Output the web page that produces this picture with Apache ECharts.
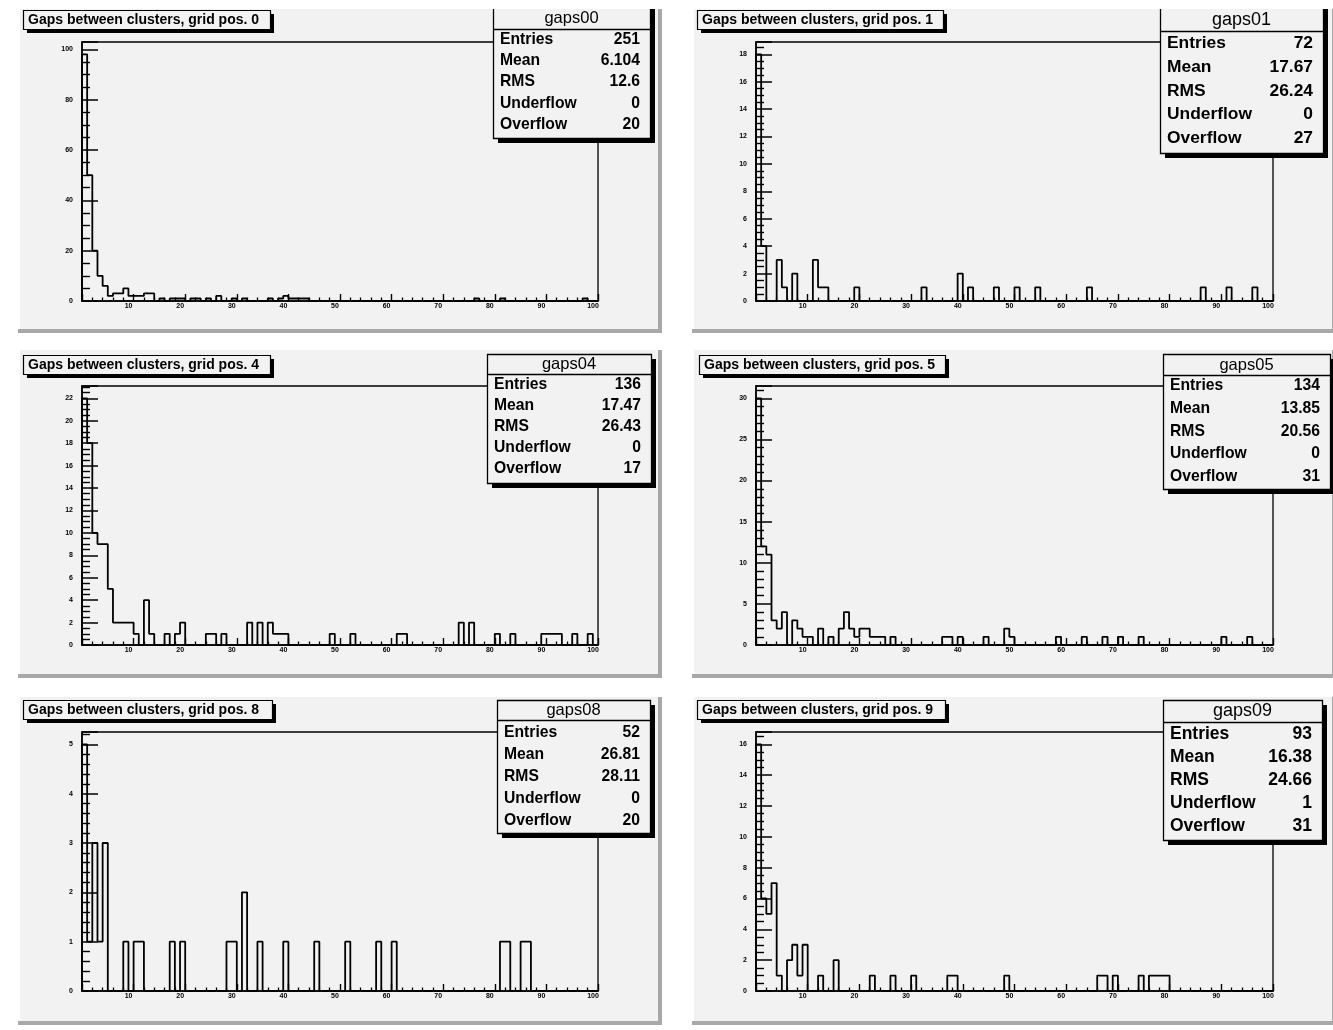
<!DOCTYPE html>
<html>
<head>
<meta charset="utf-8">
<script src="https://cdn.jsdelivr.net/npm/echarts@6/dist/echarts.min.js"></script>
<style>
  html, body { margin: 0; padding: 0; background: #ffffff; }
  #chart { width: 1333px; height: 1030px; }
</style>
</head>
<body>
<div id="chart"></div>
<script>
// Bin contents, 100 bins of width 1 on [0, 100)
const gaps00 = [
  98, 50, 20, 10, 6, 2, 3, 3, 5, 2,
  2, 2, 3, 3, 0, 1, 0, 1, 1, 1,
  0, 1, 1, 0, 1, 0, 2, 0, 0, 1,
  0, 1, 0, 0, 0, 0, 1, 0, 1, 2,
  1, 1, 1, 1, 0, 0, 0, 0, 0, 0,
  0, 0, 0, 0, 0, 0, 0, 0, 0, 0,
  0, 0, 0, 0, 0, 0, 0, 0, 0, 0,
  0, 0, 0, 0, 0, 0, 1, 0, 0, 0,
  0, 1, 0, 0, 0, 0, 0, 0, 0, 0,
  0, 0, 0, 0, 0, 0, 0, 1, 0, 0
];
const gaps01 = [
  18, 4, 0, 0, 3, 1, 0, 2, 0, 0,
  0, 3, 1, 1, 0, 0, 0, 0, 0, 1,
  0, 0, 0, 0, 0, 0, 0, 0, 0, 0,
  0, 0, 1, 0, 0, 0, 0, 0, 0, 2,
  0, 1, 0, 0, 0, 0, 1, 0, 0, 0,
  1, 0, 0, 0, 1, 0, 0, 0, 0, 0,
  0, 0, 0, 0, 1, 0, 0, 0, 0, 0,
  0, 0, 0, 0, 0, 0, 0, 0, 0, 0,
  0, 0, 0, 0, 0, 0, 1, 0, 0, 0,
  0, 1, 0, 0, 0, 0, 1, 0, 0, 0
];
const gaps04 = [
  22, 18, 10, 9, 9, 5, 2, 2, 2, 2,
  1, 0, 4, 1, 0, 0, 1, 0, 1, 2,
  0, 0, 0, 0, 1, 1, 0, 1, 0, 0,
  0, 0, 2, 0, 2, 0, 2, 1, 1, 1,
  0, 0, 0, 0, 0, 0, 0, 0, 1, 0,
  0, 0, 1, 0, 0, 0, 0, 0, 0, 0,
  0, 1, 1, 0, 0, 0, 0, 0, 0, 0,
  0, 0, 0, 2, 0, 2, 0, 0, 0, 0,
  1, 0, 0, 1, 0, 0, 0, 0, 0, 1,
  1, 1, 1, 0, 0, 1, 0, 0, 1, 0
];
const gaps05 = [
  30, 12, 11, 3, 2, 4, 0, 3, 2, 1,
  1, 0, 2, 0, 1, 0, 2, 4, 2, 1,
  2, 2, 1, 1, 1, 0, 1, 0, 0, 0,
  0, 0, 0, 0, 0, 0, 1, 1, 0, 1,
  0, 0, 0, 0, 1, 0, 0, 0, 2, 1,
  0, 0, 0, 0, 0, 0, 0, 0, 1, 0,
  0, 0, 0, 1, 0, 0, 0, 1, 0, 0,
  1, 0, 0, 0, 1, 0, 0, 0, 0, 0,
  0, 0, 0, 0, 0, 0, 0, 0, 0, 0,
  1, 0, 0, 0, 0, 1, 0, 0, 0, 0
];
const gaps08 = [
  5, 1, 3, 1, 3, 0, 0, 0, 1, 0,
  1, 1, 0, 0, 0, 0, 0, 1, 0, 1,
  0, 0, 0, 0, 0, 0, 0, 0, 1, 1,
  0, 2, 0, 0, 1, 0, 0, 0, 0, 1,
  0, 0, 0, 0, 0, 1, 0, 0, 0, 0,
  0, 1, 0, 0, 0, 0, 0, 1, 0, 0,
  1, 0, 0, 0, 0, 0, 0, 0, 0, 0,
  0, 0, 0, 0, 0, 0, 0, 0, 0, 0,
  0, 1, 1, 0, 0, 1, 1, 0, 0, 0,
  0, 0, 0, 0, 0, 0, 0, 0, 0, 0
];
const gaps09 = [
  16, 6, 5, 7, 1, 0, 2, 3, 1, 3,
  0, 0, 1, 0, 0, 2, 0, 0, 0, 0,
  0, 0, 1, 0, 0, 0, 1, 0, 0, 0,
  1, 0, 0, 0, 0, 0, 0, 1, 1, 0,
  0, 0, 0, 0, 0, 0, 0, 0, 1, 0,
  0, 0, 0, 0, 0, 0, 0, 0, 0, 0,
  0, 0, 0, 0, 0, 0, 1, 1, 0, 1,
  0, 0, 0, 0, 1, 0, 1, 1, 1, 1,
  0, 0, 0, 0, 0, 0, 0, 0, 0, 0,
  0, 0, 0, 0, 0, 0, 0, 0, 0, 0
];

const histNames = ['gaps00', 'gaps01', 'gaps04', 'gaps05', 'gaps08', 'gaps09'];
const histCounts = [gaps00, gaps01, gaps04, gaps05, gaps08, gaps09];
const gridPositions = [0, 1, 4, 5, 8, 9];

// Statistics box contents
const statLabels = ['Entries', 'Mean', 'RMS', 'Underflow', 'Overflow'];
const statEntries = ['251', '72', '136', '134', '52', '93'];
const statMean = ['6.104', '17.67', '17.47', '13.85', '26.81', '16.38'];
const statRms = ['12.6', '26.24', '26.43', '20.56', '28.11', '24.66'];
const statUnderflow = ['0', '0', '0', '0', '0', '1'];
const statOverflow = ['20', '27', '17', '31', '20', '31'];

// Axis ticks
const xRange = [0, 100];
const xTickStep = 10;
const xMinorSplit = 5;
const yTickSteps = [20, 2, 2, 5, 1, 2];
const yMinorSplits = [4, 4, 4, 5, 5, 4];

// Pad / frame / box geometry (pixels)
const layout = [
  { pad: [18, 5, 644, 328],   frame: [82, 42, 516, 259],  title: [23, 10, 247, 19],
    stats: { x: 493, y: -20, w: 157, bottom: 138, line: 29, head: 18, row0: 39.3, step: 21.3, headFont: 16.5, rowFont: 15.7 } },
  { pad: [692, 5, 644, 328],  frame: [756, 42, 517, 259], title: [697, 10, 246, 19],
    stats: { x: 1160, y: -20, w: 163, bottom: 153, line: 31, head: 20, row0: 43.3, step: 23.75, headFont: 18, rowFont: 17.4 } },
  { pad: [18, 350, 644, 328], frame: [82, 386, 516, 259], title: [23, 355, 247, 19],
    stats: { x: 487, y: 354, w: 164, bottom: 483, line: 374, head: 364, row0: 385, step: 21, headFont: 16.5, rowFont: 15.7 } },
  { pad: [692, 350, 644, 328], frame: [756, 386, 517, 259], title: [699, 355, 246, 19],
    stats: { x: 1163, y: 354, w: 167, bottom: 489, line: 375, head: 365, row0: 386, step: 22.6, headFont: 16.5, rowFont: 15.7 } },
  { pad: [18, 697, 644, 328], frame: [82, 732, 516, 259], title: [23, 700, 249, 19],
    stats: { x: 497, y: 700, w: 153, bottom: 833, line: 720, head: 710, row0: 732.4, step: 22.1, headFont: 16.5, rowFont: 15.7 } },
  { pad: [692, 697, 644, 328], frame: [756, 732, 517, 259], title: [697, 700, 248, 19],
    stats: { x: 1163, y: 700, w: 159, bottom: 840, line: 722, head: 711, row0: 734, step: 23, headFont: 18, rowFont: 17.5 } }
];

const PAD_FILL = '#f2f2f2';
const FONT = '"Liberation Sans", Arial, Helvetica, sans-serif';

// Step outline of a histogram: left edge of every bin, closed at both ends
function outline(counts) {
  const pts = [[xRange[0], 0]];
  counts.forEach((c, k) => pts.push([xRange[0] + k, c]));
  pts.push([xRange[0] + counts.length, 0]);
  return pts;
}

function isMultiple(v, step) {
  const r = v / step;
  return Math.abs(r - Math.round(r)) < 1e-6;
}

const grids = [], xAxes = [], yAxes = [], series = [], graphics = [];

layout.forEach((L, i) => {
  const [fx, fy, fw, fh] = L.frame;
  grids.push({
    left: fx, top: fy, width: fw, height: fh,
    show: true, borderColor: '#000', borderWidth: 1.3,
    backgroundColor: 'transparent', containLabel: false
  });

  xAxes.push({
    type: 'value', gridIndex: i, min: xRange[0], max: xRange[1], interval: xTickStep,
    axisLine: { show: true, onZero: false, lineStyle: { color: '#000', width: 1.6 } },
    axisTick: { show: true, inside: true, length: 7, lineStyle: { color: '#000', width: 1.4 } },
    minorTick: { show: true, splitNumber: xMinorSplit, length: 3.5, lineStyle: { color: '#000', width: 1.3 } },
    splitLine: { show: false },
    axisLabel: {
      show: true, fontSize: 7, fontWeight: 'bold', fontFamily: FONT, color: '#000',
      margin: 2, padding: [0, 10, 0, 0],
      formatter: v => (v === xRange[0] ? '' : String(v))
    }
  });

  const counts = histCounts[i];
  const yMax = Math.max(...counts) * 1.05;
  const step = yTickSteps[i];
  yAxes.push({
    type: 'value', gridIndex: i, min: 0, max: yMax, interval: step,
    axisLine: { show: true, onZero: false, lineStyle: { color: '#000', width: 1.6 } },
    axisTick: { show: true, inside: true, length: 16, lineStyle: { color: '#000', width: 1.5 } },
    minorTick: { show: true, splitNumber: yMinorSplits[i], length: 8, lineStyle: { color: '#000', width: 1.4 } },
    splitLine: { show: false },
    axisLabel: {
      show: true, fontSize: 7, fontWeight: 'bold', fontFamily: FONT, color: '#000', margin: 9,
      formatter: v => (isMultiple(v, step) ? String(Math.round(v)) : '')
    }
  });

  series.push({
    name: histNames[i], type: 'line', xAxisIndex: i, yAxisIndex: i,
    data: outline(counts), step: 'end', showSymbol: false, symbol: 'none',
    lineStyle: { color: '#000', width: 1.8 }, z: 3, silent: true
  });

  // Pad background with a raised bevel on the lower and right edges
  const [px, py, pw, ph] = L.pad;
  graphics.push({ type: 'rect', z: -20, silent: true,
    shape: { x: px, y: py, width: pw, height: ph }, style: { fill: PAD_FILL } });
  graphics.push({ type: 'rect', z: -19, silent: true,
    shape: { x: px, y: py + ph - 4, width: pw, height: 4 }, style: { fill: '#a8a8a8' } });
  graphics.push({ type: 'rect', z: -19, silent: true,
    shape: { x: px + pw - 4, y: py, width: 4, height: ph }, style: { fill: '#a8a8a8' } });
  graphics.push({ type: 'rect', z: -19, silent: true,
    shape: { x: px, y: py, width: 2, height: ph - 4 }, style: { fill: '#ffffff' } });

  // Title box with drop shadow
  const [tx, ty, tw, th] = L.title;
  graphics.push({ type: 'rect', z: 50, silent: true,
    shape: { x: tx + 4, y: ty + 4, width: tw, height: th }, style: { fill: '#000' } });
  graphics.push({ type: 'rect', z: 51, silent: true,
    shape: { x: tx + 0.5, y: ty + 0.5, width: tw, height: th },
    style: { fill: PAD_FILL, stroke: '#000', lineWidth: 1.2 } });
  graphics.push({ type: 'text', z: 52, silent: true,
    style: { x: tx + 5, y: ty + th / 2 + 1, text: 'Gaps between clusters, grid pos. ' + gridPositions[i],
      fontSize: 14, fontWeight: 'bold', fontFamily: FONT, fill: '#000',
      align: 'left', verticalAlign: 'middle', textAlign: 'left', textVerticalAlign: 'middle' } });

  // Statistics box with drop shadow
  const S = L.stats;
  const sh = S.bottom - S.y;
  graphics.push({ type: 'rect', z: 60, silent: true,
    shape: { x: S.x + 5, y: S.y + 5, width: S.w, height: sh }, style: { fill: '#000' } });
  graphics.push({ type: 'rect', z: 61, silent: true,
    shape: { x: S.x + 0.5, y: S.y + 0.5, width: S.w, height: sh },
    style: { fill: PAD_FILL, stroke: '#000', lineWidth: 1.3 } });
  graphics.push({ type: 'line', z: 62, silent: true,
    shape: { x1: S.x, y1: S.line + 0.5, x2: S.x + S.w, y2: S.line + 0.5 },
    style: { stroke: '#000', lineWidth: 1.3 } });
  graphics.push({ type: 'text', z: 62, silent: true,
    style: { x: S.x + S.w / 2, y: S.head, text: histNames[i],
      fontSize: S.headFont, fontFamily: FONT, fill: '#000',
      align: 'center', verticalAlign: 'middle', textAlign: 'center', textVerticalAlign: 'middle' } });
  const vals = [statEntries[i], statMean[i], statRms[i], statUnderflow[i], statOverflow[i]];
  statLabels.forEach((lab, r) => {
    const yy = S.row0 + r * S.step;
    graphics.push({ type: 'text', z: 62, silent: true,
      style: { x: S.x + 7, y: yy, text: lab, fontSize: S.rowFont, fontWeight: 'bold', fontFamily: FONT, fill: '#000',
        align: 'left', verticalAlign: 'middle', textAlign: 'left', textVerticalAlign: 'middle' } });
    graphics.push({ type: 'text', z: 62, silent: true,
      style: { x: S.x + S.w - 10, y: yy, text: vals[r], fontSize: S.rowFont, fontWeight: 'bold', fontFamily: FONT, fill: '#000',
        align: 'right', verticalAlign: 'middle', textAlign: 'right', textVerticalAlign: 'middle' } });
  });
});

// Page margin above the first row of pads
graphics.push({ type: 'rect', z: 70, silent: true,
  shape: { x: 0, y: 0, width: 1333, height: 9 }, style: { fill: '#ffffff' } });

const chart = echarts.init(document.getElementById('chart'), null, { renderer: 'canvas' });
chart.setOption({
  animation: false,
  backgroundColor: '#ffffff',
  grid: grids,
  xAxis: xAxes,
  yAxis: yAxes,
  series: series,
  graphic: { elements: graphics }
});
</script>
</body>
</html>
